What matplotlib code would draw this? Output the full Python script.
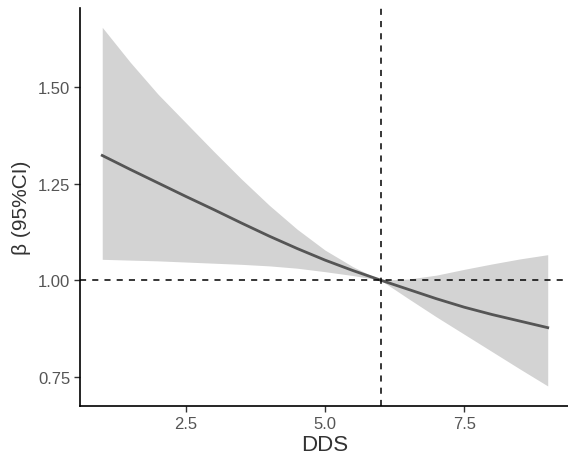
import matplotlib.pyplot as plt

# DDS grid and estimated beta with 95% CI
dds = [1.0, 1.5, 2.0, 2.5, 3.0, 3.5, 4.0, 4.5, 5.0, 5.5, 6.0, 6.5, 7.0, 7.5, 8.0, 8.5, 9.0]
beta = [1.323, 1.287, 1.252, 1.217, 1.183, 1.148, 1.114, 1.082, 1.052, 1.025, 1.000,
        0.976, 0.952, 0.930, 0.911, 0.894, 0.877]
upper = [1.655, 1.565, 1.482, 1.408, 1.334, 1.262, 1.194, 1.132, 1.078, 1.035, 1.000,
         1.003, 1.013, 1.028, 1.042, 1.055, 1.066]
lower = [1.054, 1.052, 1.050, 1.047, 1.044, 1.041, 1.037, 1.031, 1.022, 1.012, 1.000,
         0.952, 0.905, 0.860, 0.815, 0.770, 0.726]

ref_x = 6
ref_y = 1.0
xticks = [2.5, 5.0, 7.5]
yticks = [0.75, 1.00, 1.25, 1.50]

plt.rcParams['font.family'] = ['Liberation Sans', 'DejaVu Sans']

fig = plt.figure(figsize=(5.68, 4.64), dpi=100)
ax = fig.add_axes([0.1408, 0.1228, 0.8627, 0.8578])

ax.fill_between(dds, lower, upper, color='#d3d3d3', linewidth=0)
ax.plot(dds, beta, color='#555555', linewidth=2.0)
ax.axhline(ref_y, color='black', linestyle=(0, (4, 4)), linewidth=1.1)
ax.axvline(ref_x, color='black', linestyle=(0, (4, 4)), linewidth=1.1)

ax.set_xlim(0.6, 9.4)
ax.set_ylim(0.674, 1.705)
ax.set_xticks(xticks)
ax.set_xticklabels([f'{t:.1f}' for t in xticks])
ax.set_yticks(yticks)
ax.set_yticklabels([f'{t:.2f}' for t in yticks])

for side in ['top', 'right']:
    ax.spines[side].set_visible(False)
for side in ['left', 'bottom']:
    ax.spines[side].set_linewidth(1.2)
    ax.spines[side].set_color('black')

ax.tick_params(axis='both', length=4, width=1.0, color='#333333',
               labelsize=12, labelcolor='#555555', pad=3)
ax.set_xlabel('DDS', fontsize=16, color='#333333', labelpad=2)
ax.set_ylabel('β (95%CI)', fontsize=15, color='#333333', labelpad=5)

fig.savefig('out.png', dpi=100)
